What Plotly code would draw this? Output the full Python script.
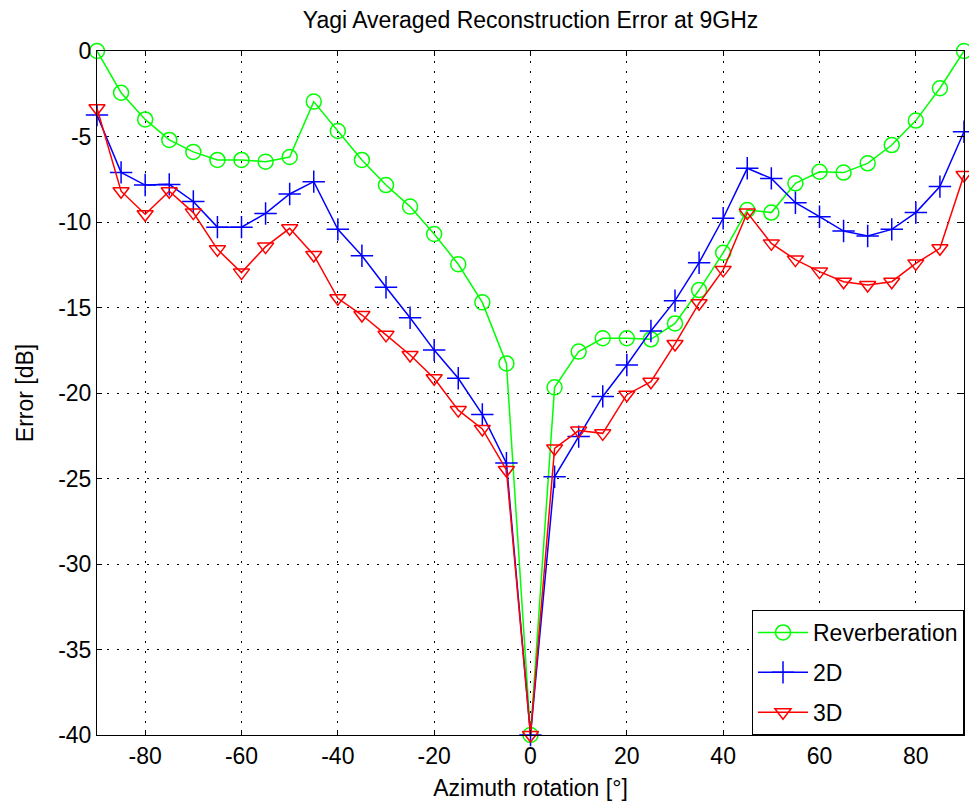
import plotly.graph_objects as go

angles = [-90, -85, -80, -75, -70, -65, -60, -55, -50, -45, -40, -35, -30, -25, -20, -15, -10, -5, 0,
          5, 10, 15, 20, 25, 30, 35, 40, 45, 50, 55, 60, 65, 70, 75, 80, 85, 90]

reverberation = [0.0, -2.44, -4.0, -5.2, -5.9, -6.37, -6.37, -6.47, -6.2, -2.96, -4.68, -6.37, -7.84,
                 -9.1, -10.7, -12.47, -14.7, -18.27, -40.0, -19.67, -17.58, -16.8, -16.8, -16.86,
                 -15.93, -13.98, -11.8, -9.3, -9.45, -7.74, -7.06, -7.11, -6.57, -5.5, -4.07, -2.18, 0.0]

err_2d = [-3.74, -7.1, -7.84, -7.8, -8.8, -10.3, -10.3, -9.5, -8.36, -7.64, -10.43, -11.97, -13.82,
          -15.6, -17.49, -19.14, -21.25, -24.1, -40.0, -24.9, -22.55, -20.2, -18.36, -16.37, -14.6,
          -12.38, -9.78, -6.86, -7.45, -8.87, -9.69, -10.53, -10.82, -10.43, -9.45, -7.93, -4.72]

err_3d = [-3.35, -8.2, -9.55, -8.2, -9.45, -11.6, -12.96, -11.44, -10.37, -11.93, -14.46, -15.44, -16.6,
          -17.78, -19.14, -21.0, -22.1, -24.5, -40.0, -23.24, -22.2, -22.36, -20.1, -19.34, -17.13,
          -14.75, -12.8, -9.45, -11.25, -12.2, -12.9, -13.49, -13.68, -13.49, -12.42, -11.54, -7.25]

x_ticks = [-80, -60, -40, -20, 0, 20, 40, 60, 80]
y_ticks = [-40, -35, -30, -25, -20, -15, -10, -5, 0]

FONT = "Liberation Sans, Arial, sans-serif"
FS = 23

fig = go.Figure()
fig.add_trace(go.Scatter(
    x=angles, y=reverberation, name="Reverberation", mode="lines+markers", legendgroup="a",
    line=dict(color="#00FF00", width=1.5),
    marker=dict(symbol="circle-open", size=15, color="#00FF00", line=dict(width=1.5)),
    cliponaxis=False))
fig.add_trace(go.Scatter(
    x=angles, y=err_2d, name="2D", mode="lines+markers", legendgroup="b",
    line=dict(color="#0000FF", width=1.5),
    marker=dict(symbol="cross-thin-open", size=16, color="#0000FF", line=dict(width=1.5, color="#0000FF")),
    cliponaxis=False))
fig.add_trace(go.Scatter(
    x=angles, y=err_3d, name="3D", mode="lines+markers", legendgroup="c",
    line=dict(color="#FF0000", width=1.5),
    marker=dict(symbol="triangle-down-open", size=14, color="#FF0000", line=dict(width=1.5)),
    cliponaxis=False))

axis_common = dict(
    showline=True, linecolor="black", linewidth=1, mirror="ticks",
    ticks="inside", ticklen=5, tickcolor="black", tickwidth=1,
    showgrid=True, gridcolor="black", griddash="2px,8px", gridwidth=1,
    zeroline=False, tickfont=dict(family=FONT, size=FS, color="black"),
)

fig.update_xaxes(range=[-90, 90], tickvals=x_ticks, ticktext=[str(v) for v in x_ticks],
                 title=dict(text="Azimuth rotation [°]", font=dict(family=FONT, size=FS, color="black"), standoff=12),
                 **axis_common)
fig.update_yaxes(range=[-40, 0], tickvals=y_ticks, ticktext=[str(v) for v in y_ticks],
                 title=dict(text="Error [dB]", font=dict(family=FONT, size=FS, color="black"), standoff=18),
                 **axis_common)

fig.update_layout(
    width=969, height=810,
    margin=dict(l=97, r=5, t=51, b=75),
    paper_bgcolor="white", plot_bgcolor="white",
    title=dict(text="Yagi Averaged Reconstruction Error at 9GHz", x=0.5475, xanchor="center",
               y=0.975, yanchor="middle", font=dict(family=FONT, size=FS, color="black")),
    legend=dict(x=1, y=0, xanchor="right", yanchor="bottom", bgcolor="white",
                bordercolor="black", borderwidth=1, font=dict(family=FONT, size=FS, color="black"),
                itemwidth=50, tracegroupgap=7),
    showlegend=True,
)

fig.write_html("out.html")
